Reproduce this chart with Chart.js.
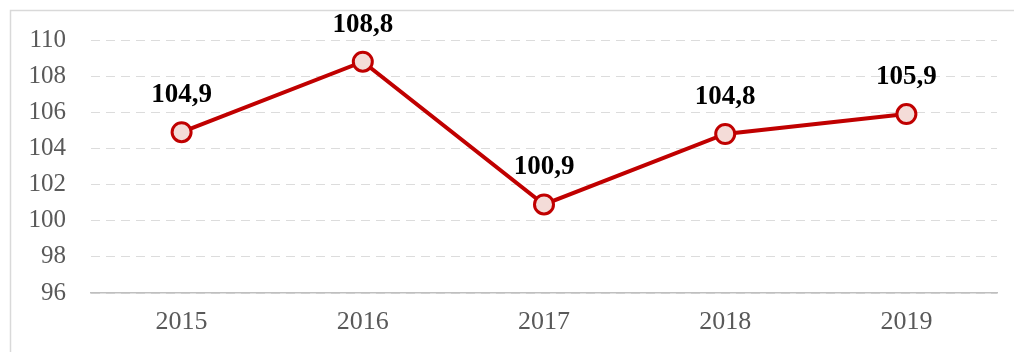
<!DOCTYPE html>
<html>
<head>
<meta charset="utf-8">
<script src="https://cdn.jsdelivr.net/npm/chart.js@4/dist/chart.umd.min.js"></script>
<style>
  html, body { margin: 0; padding: 0; background: #ffffff; }
  #wrap { width: 1014px; height: 352px; position: relative; }
</style>
</head>
<body>
<div id="wrap"><canvas id="c" width="1014" height="352"></canvas></div>
<script>
const years = ['2015', '2016', '2017', '2018', '2019'];
const indexValues = [104.9, 108.8, 100.9, 104.8, 105.9];
const yTicks = [96, 98, 100, 102, 104, 106, 108, 110];

const fmt = v => v.toFixed(1).replace('.', ',');
const serif = '"Liberation Serif", "Times New Roman", serif';

// Outer frame around the chart
const framePlugin = {
  id: 'frame',
  beforeDraw(chart) {
    const ctx = chart.ctx;
    ctx.save();
    ctx.strokeStyle = '#d9d9d9';
    ctx.lineWidth = 1.5;
    ctx.beginPath();
    ctx.moveTo(10.5, 360);
    ctx.lineTo(10.5, 10.5);
    ctx.lineTo(1020, 10.5);
    ctx.stroke();
    ctx.restore();
  }
};

// Value labels above each point
const valueLabels = {
  id: 'valueLabels',
  afterDatasetsDraw(chart) {
    const ctx = chart.ctx;
    const meta = chart.getDatasetMeta(0);
    ctx.save();
    ctx.font = 'bold 27px ' + serif;
    ctx.fillStyle = '#000000';
    ctx.textAlign = 'center';
    ctx.textBaseline = 'middle';
    meta.data.forEach((pt, i) => {
      ctx.fillText(fmt(chart.data.datasets[0].data[i]), pt.x, pt.y - 37);
    });
    ctx.restore();
  }
};

new Chart(document.getElementById('c'), {
  type: 'line',
  data: {
    labels: years,
    datasets: [{
      data: indexValues,
      borderColor: '#c00000',
      borderWidth: 4,
      backgroundColor: '#f4dcd8',
      pointBackgroundColor: '#f4dcd8',
      pointBorderColor: '#c00000',
      pointBorderWidth: 3,
      pointRadius: 9.5,
      tension: 0,
      clip: false
    }]
  },
  options: {
    responsive: false,
    animation: false,
    devicePixelRatio: 1,
    layout: { padding: { left: 0, top: 38, right: 17, bottom: 0 } },
    plugins: { legend: { display: false }, tooltip: { enabled: false } },
    scales: {
      x: {
        offset: true,
        grid: { display: false, drawTicks: false },
        border: { display: true, color: '#bfbfbf', width: 1.5 },
        ticks: {
          color: '#595959',
          padding: 14,
          font: { family: serif, size: 26 }
        },
        afterFit(scale) { scale.height = 59; }
      },
      y: {
        min: 96,
        max: 110,
        afterBuildTicks(scale) { scale.ticks = yTicks.map(v => ({ value: v })); },
        grid: {
          color: '#dcdcdc',
          lineWidth: 1,
          drawTicks: false
        },
        border: { display: false, dash: [9, 6] },
        ticks: {
          color: '#595959',
          padding: 25,
          font: { family: serif, size: 25 }
        },
        afterFit(scale) { scale.width = 91; }
      }
    }
  },
  plugins: [framePlugin, valueLabels]
});
</script>
</body>
</html>
